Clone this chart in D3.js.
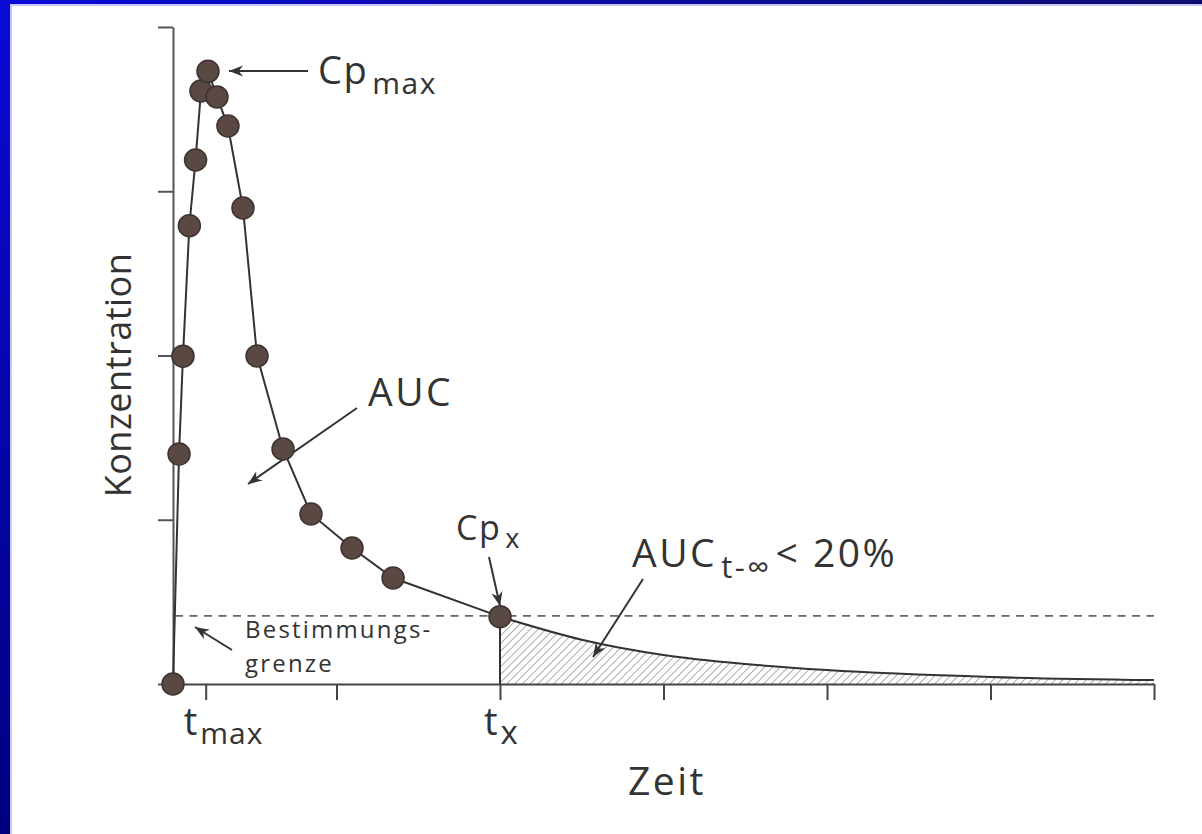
<!DOCTYPE html>
<html>
<head>
<meta charset="utf-8">
<script src="https://cdnjs.cloudflare.com/ajax/libs/d3/7.8.5/d3.min.js"></script>
<style>
  html, body { margin: 0; padding: 0; background: #fff; }
  svg { display: block; }
  text { font-family: "Open Sans", "DejaVu Sans", sans-serif; fill: #333; }
</style>
</head>
<body>
<svg id="chart" width="1202" height="834"></svg>
<script>
// ---- data (arbitrary units) ----
const sampleTimes = [0, 0.037, 0.061, 0.10, 0.138, 0.171, 0.214, 0.269, 0.336, 0.428, 0.514, 0.673, 0.844, 1.095, 1.346, 2.0];
const sampleConc  = [0, 1.40, 1.996, 2.79, 3.19, 3.61, 3.73, 3.574, 3.397, 2.898, 1.997, 1.431, 1.035, 0.828, 0.645, 0.41];
const tailTimes = [2.0, 2.5, 3.0, 3.5, 4.0, 5.0, 6.0];
const tailConc  = [0.41, 0.27, 0.177, 0.122, 0.085, 0.043, 0.024];
const loq = 0.415;
const yTicks = [0, 1, 2, 3, 4];
const xTicks = [0.2, 1, 2, 3, 4, 5, 6];
const xTickLabelValues = [0.2, 2];
const xTickLabelMain = ["t", "t"];
const xTickLabelSub = ["max", "x"];

const svg = d3.select("#chart");

// ---- frame ----
const defs = svg.append("defs");
const gl = defs.append("linearGradient").attr("id", "gLeft").attr("x1", 0).attr("y1", 0).attr("x2", 0).attr("y2", 1);
gl.append("stop").attr("offset", "0%").attr("stop-color", "#0a0ad8");
gl.append("stop").attr("offset", "100%").attr("stop-color", "#00007e");
const gt = defs.append("linearGradient").attr("id", "gTop").attr("x1", 0).attr("y1", 0).attr("x2", 1).attr("y2", 0);
gt.append("stop").attr("offset", "0%").attr("stop-color", "#0a0ad8");
gt.append("stop").attr("offset", "100%").attr("stop-color", "#0c0c70");
const hatch = defs.append("pattern").attr("id", "hatch").attr("patternUnits", "userSpaceOnUse")
  .attr("width", 5.5).attr("height", 5.5).attr("patternTransform", "rotate(45)");
hatch.append("line").attr("x1", 0).attr("y1", 0).attr("x2", 0).attr("y2", 5.5)
  .attr("stroke", "#777").attr("stroke-width", 1.2);

svg.append("rect").attr("x", 0).attr("y", 0).attr("width", 12).attr("height", 834).attr("fill", "#c8c8f4");
svg.append("rect").attr("x", 0).attr("y", 0).attr("width", 1202).attr("height", 6).attr("fill", "#c8c8f4");
svg.append("rect").attr("x", 0).attr("y", 0).attr("width", 10).attr("height", 834).attr("fill", "url(#gLeft)");
svg.append("rect").attr("x", 0).attr("y", 0).attr("width", 1202).attr("height", 4).attr("fill", "url(#gTop)");

// ---- scales ----
const x = d3.scaleLinear().domain([0, 6]).range([173, 1154]);
const y = d3.scaleLinear().domain([0, 4]).range([684, 27]);

// ---- hatched tail area ----
const tail = tailTimes.map((t, i) => [t, tailConc[i]]);
svg.append("path").datum(tail)
  .attr("fill", "url(#hatch)")
  .attr("d", d3.area().x(d => x(d[0])).y0(y(0)).y1(d => y(d[1])).curve(d3.curveMonotoneX));

// ---- axes ----
const yAxis = svg.append("g").attr("transform", `translate(${x(0)},0)`)
  .call(d3.axisLeft(y).tickValues(yTicks).tickSize(15).tickSizeOuter(0).tickFormat(""));
yAxis.selectAll("path,line").attr("stroke", "#555").attr("stroke-width", 2);

const xAxis = svg.append("g").attr("transform", `translate(0,${y(0)})`)
  .call(d3.axisBottom(x).tickValues(xTicks).tickSize(16).tickSizeOuter(0).tickFormat(""));
xAxis.selectAll("path,line").attr("stroke", "#444").attr("stroke-width", 2);

// ---- limit of quantification ----
svg.append("line")
  .attr("x1", x(0) + 2).attr("x2", x(6)).attr("y1", y(loq)).attr("y2", y(loq))
  .attr("stroke", "#666").attr("stroke-width", 1.6).attr("stroke-dasharray", "8,6.5");

// ---- vertical at t_x ----
svg.append("line")
  .attr("x1", x(2)).attr("x2", x(2)).attr("y1", y(tailConc[0])).attr("y2", y(0))
  .attr("stroke", "#333").attr("stroke-width", 2);

// ---- tail curve ----
svg.append("path").datum(tail)
  .attr("fill", "none").attr("stroke", "#333").attr("stroke-width", 2)
  .attr("d", d3.line().x(d => x(d[0])).y(d => y(d[1])).curve(d3.curveMonotoneX));

// ---- measured curve ----
const pts = sampleTimes.map((t, i) => [t, sampleConc[i]]);
svg.append("path").datum(pts)
  .attr("fill", "none").attr("stroke", "#333").attr("stroke-width", 2)
  .attr("d", d3.line().x(d => x(d[0])).y(d => y(d[1])));

// ---- arrows ----
defs.append("marker").attr("id", "arrow").attr("viewBox", "0 0 10 10")
  .attr("refX", 10).attr("refY", 5).attr("markerWidth", 14).attr("markerHeight", 14)
  .attr("markerUnits", "userSpaceOnUse").attr("orient", "auto")
  .append("path").attr("d", "M0,1 L10,5 L0,9 L3,5 Z").attr("fill", "#333");

function arrow(x1, y1, x2, y2) {
  svg.append("line").attr("x1", x1).attr("y1", y1).attr("x2", x2).attr("y2", y2)
    .attr("stroke", "#333").attr("stroke-width", 2).attr("marker-end", "url(#arrow)");
}
arrow(308, 71, 229, 71);      // Cp max
arrow(357, 408, 248, 484);    // AUC
arrow(489, 557, 500, 606);    // Cp x
arrow(643, 579, 593, 657);    // AUC t-inf
arrow(232, 650, 195, 627);    // Bestimmungsgrenze

// ---- points ----
svg.selectAll("circle.pt").data(pts).join("circle").attr("class", "pt")
  .attr("cx", d => x(d[0])).attr("cy", d => y(d[1])).attr("r", 11)
  .attr("fill", "#5a4843").attr("stroke", "#3e3230").attr("stroke-width", 1.5);

// ---- labels ----
function subLabel(xp, yp, main, sub, fs, sfs, dy, ls, rest) {
  const t = svg.append("text").attr("x", xp).attr("y", yp)
    .style("font-size", fs + "px").style("letter-spacing", ls + "px");
  t.append("tspan").text(main);
  t.append("tspan").attr("dx", 4).attr("dy", dy).style("font-size", sfs + "px").text(sub);
  if (rest) t.append("tspan").attr("dy", -dy).attr("dx", 4).text(rest);
  return t;
}
subLabel(318, 84, "Cp", "max", 38, 30, 10, 1.5);
svg.append("text").attr("x", 368).attr("y", 406).style("font-size", "39px").style("letter-spacing", "2.5px").text("AUC");
subLabel(456, 540, "Cp", "x", 34, 27, 8, 1.5);
subLabel(632, 567, "AUC", "t-∞", 39, 31, 11, 2.5, "< 20%");

svg.append("text").attr("x", 245).attr("y", 638)
  .style("font-size", "24px").style("letter-spacing", "2.2px").text("Bestimmungs-");
svg.append("text").attr("x", 245).attr("y", 672)
  .style("font-size", "24px").style("letter-spacing", "2.2px").text("grenze");

// x tick labels
xTickLabelValues.forEach((v, i) => {
  const t = svg.append("text").attr("x", x(v) - (i === 0 ? 22 : 16)).attr("y", 735)
    .style("font-size", "38px").style("letter-spacing", "1px");
  t.append("tspan").text(xTickLabelMain[i]);
  t.append("tspan").attr("dx", 2).attr("dy", 9).style("font-size", i === 0 ? "30px" : "33px").text(xTickLabelSub[i]);
});

svg.append("text").attr("x", 667).attr("y", 795).attr("text-anchor", "middle")
  .style("font-size", "39px").style("letter-spacing", "2.5px").text("Zeit");
svg.append("text").attr("transform", "translate(131,375) rotate(-90)").attr("text-anchor", "middle")
  .style("font-size", "36px").style("letter-spacing", "0.5px").text("Konzentration");
</script>
</body>
</html>
